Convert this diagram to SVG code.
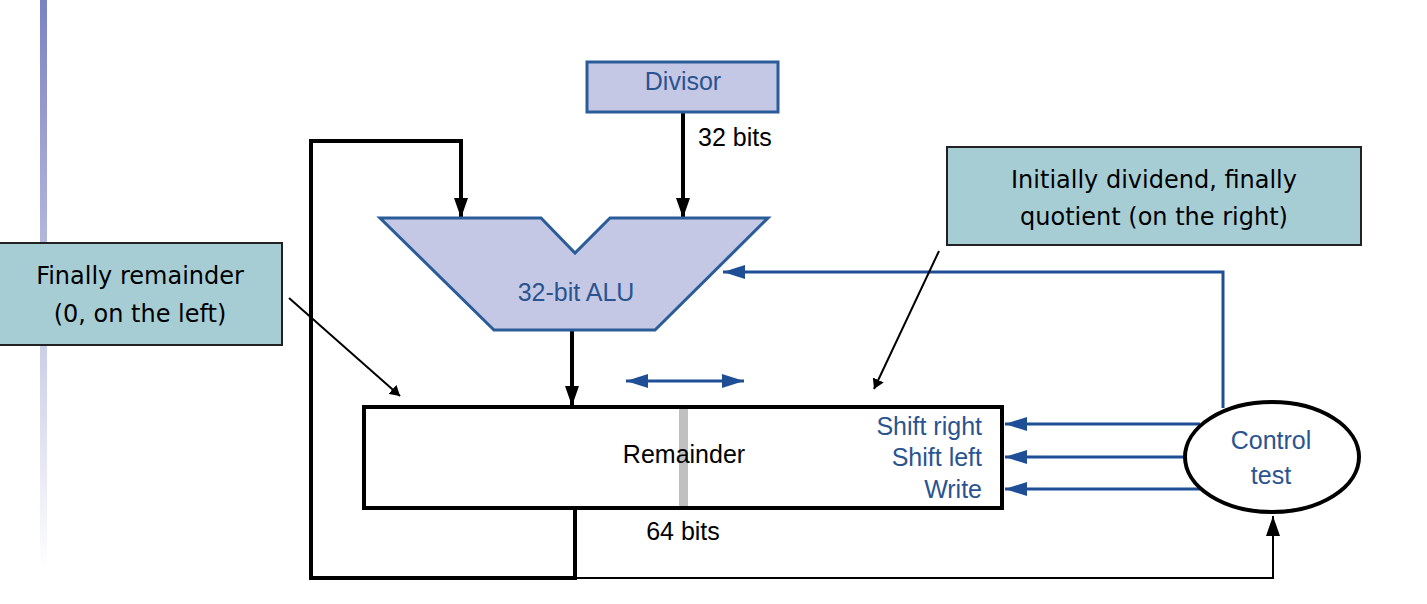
<svg xmlns="http://www.w3.org/2000/svg" width="1427" height="604" viewBox="0 0 1427 604">
<defs>
<linearGradient id="bar" x1="0" y1="0" x2="0" y2="1"><stop offset="0" stop-color="#7b82c2"/><stop offset="1" stop-color="#ffffff"/></linearGradient>
<marker id="ak" markerWidth="10" markerHeight="12" refX="10" refY="6" orient="auto" markerUnits="userSpaceOnUse"><path d="M0,0 L10,6 L0,12 z" fill="#000"/></marker>
<marker id="akb" markerWidth="20" markerHeight="14" refX="20" refY="7" orient="auto" markerUnits="userSpaceOnUse"><path d="M0,0 L20,7 L0,14 z" fill="#000"/></marker>
<marker id="ab" markerWidth="22" markerHeight="14" refX="22" refY="7" orient="auto-start-reverse" markerUnits="userSpaceOnUse"><path d="M0,0 L22,7 L0,14 z" fill="#1e4f96"/></marker>
</defs>
<style>
text{font-family:"Liberation Sans",Arial,sans-serif;font-size:25px}
.blk{fill:#000}.blu{fill:#2a5490}
.tah{font-family:"DejaVu Sans",Verdana,sans-serif;font-size:24px}
.w{fill:none;stroke:#000;stroke-width:4}
.b{fill:none;stroke:#1e4f96;stroke-width:3}
.thin{fill:none;stroke:#000;stroke-width:2}
</style>
<rect x="40" y="0" width="7" height="570" fill="url(#bar)"/>
<g id="connectors">
<polyline class="w" points="575,510 575,578 311,578 311,141 461,141 461,218" marker-end="url(#akb)"/>
<line class="w" x1="683" y1="112" x2="683" y2="218" marker-end="url(#akb)"/>
<line class="w" x1="572" y1="330" x2="572" y2="406" marker-end="url(#akb)"/>
<polyline class="thin" points="575,578 1273,578 1273,516" stroke-width="3" marker-end="url(#akb)"/>
<line class="b" x1="626" y1="381" x2="744" y2="381" marker-start="url(#ab)" marker-end="url(#ab)"/>
<line class="b" x1="1200" y1="424" x2="1005" y2="424" marker-end="url(#ab)"/>
<line class="b" x1="1185" y1="457" x2="1005" y2="457" marker-end="url(#ab)"/>
<line class="b" x1="1200" y1="489" x2="1005" y2="489" marker-end="url(#ab)"/>
<polyline class="b" points="1223,408 1223,272 723,272" marker-end="url(#ab)"/>
<line class="thin" x1="289" y1="298" x2="400" y2="396" marker-end="url(#ak)"/>
<line class="thin" x1="939" y1="251" x2="874" y2="389" marker-end="url(#ak)"/>
</g>
<g id="divisor"><rect x="587" y="62" width="191" height="50" fill="#c5c8e4" stroke="#2a5c9a" stroke-width="3"/><text class="blu" x="683" y="90" text-anchor="middle">Divisor</text></g>
<text class="blk" x="698" y="146">32 bits</text>
<g id="alu"><polygon points="380,218 541,218 575,253 610,218 768,218 655,330 494,330" fill="#c5c8e4" stroke="#2a5c9a" stroke-width="3"/><text class="blu" x="576" y="301" text-anchor="middle">32-bit ALU</text></g>
<g id="remainder"><rect x="364" y="407" width="638" height="101" fill="#fff" stroke="#000" stroke-width="4"/><rect x="679" y="409" width="9" height="97" fill="#c0c0c0"/>
<text class="blk" x="684" y="463" text-anchor="middle">Remainder</text>
<g class="blu" text-anchor="end"><text x="982" y="435">Shift right</text><text x="982" y="466">Shift left</text><text x="982" y="498">Write</text></g></g>
<text class="blk" x="683" y="540" text-anchor="middle">64 bits</text>
<g id="control"><ellipse cx="1272" cy="457" rx="87" ry="55" fill="#fff" stroke="#000" stroke-width="4"/><text class="blu" x="1271" y="449" text-anchor="middle">Control</text><text class="blu" x="1271" y="484" text-anchor="middle">test</text></g>
<g id="note-remainder"><rect x="-2" y="243" width="284" height="102" fill="#a7cdd4" stroke="#222" stroke-width="2"/><text class="tah blk" x="140" y="284" text-anchor="middle">Finally remainder</text><text class="tah blk" x="140" y="322" text-anchor="middle">(0, on the left)</text></g>
<g id="note-quotient"><rect x="947" y="147" width="414" height="98" fill="#a7cdd4" stroke="#222" stroke-width="2"/><text class="tah blk" x="1154" y="188" text-anchor="middle">Initially dividend, finally</text><text class="tah blk" x="1154" y="225" text-anchor="middle">quotient (on the right)</text></g>
</svg>
